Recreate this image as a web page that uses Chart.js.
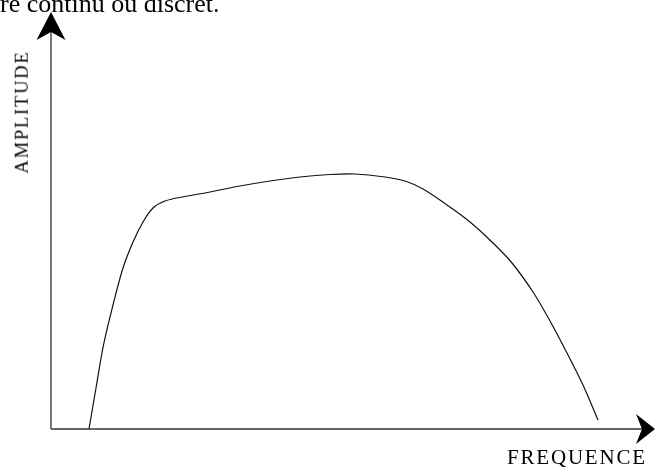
<!DOCTYPE html>
<html>
<head>
<meta charset="utf-8">
<script src="https://cdn.jsdelivr.net/npm/chart.js@4.4.1/dist/chart.umd.min.js"></script>
<style>
  html, body { margin: 0; padding: 0; background: #fff; }
  #wrap { position: relative; width: 656px; height: 469px; overflow: hidden; }
  #c { position: absolute; left: 0; top: 0; }
  .txt { position: absolute; font-family: "Liberation Serif", "DejaVu Serif", serif; color: #000; white-space: nowrap; line-height: 1; }
  #top { left: 0; top: -9px; font-size: 26px; }
  #ylab { font-size: 18.5px; letter-spacing: 1.8px; left: 21.5px; top: 112px; transform: translate(-50%, -50%) rotate(-90deg); }
  #xlab { font-size: 21px; letter-spacing: 1.8px; left: 507px; top: 447px; }
</style>
</head>
<body>
<div id="wrap">
  <canvas id="c" width="656" height="469"></canvas>
  <div class="txt" id="top">re continu ou discret.</div>
  <div class="txt" id="ylab">AMPLITUDE</div>
  <div class="txt" id="xlab">FREQUENCE</div>
</div>
<script>
// Frequency (x) and amplitude (y)
const frequency = [38, 45.5, 52.5, 62, 72, 82, 92, 102, 114, 134, 159, 189, 219, 249, 279, 304, 334, 354, 372, 396, 419, 442, 461, 482, 499, 516, 532, 547];
const amplitude = [0, 44, 84, 124, 161, 187, 207, 221, 228, 232.5, 237, 243, 248, 252, 254.5, 255, 252, 248, 240, 224, 207, 186, 166, 137, 108, 76, 44, 9];
const xRange = [0, 600];
const yRange = [0, 417];

const points = frequency.map((f, i) => ({ x: f, y: amplitude[i] }));

const axesArrows = {
  id: 'axesArrows',
  afterDatasetsDraw(chart) {
    const { ctx } = chart;
    const x0 = chart.scales.x.getPixelForValue(xRange[0]);
    const y0 = chart.scales.y.getPixelForValue(yRange[0]);
    const xEnd = chart.scales.x.getPixelForValue(xRange[1]);
    const yEnd = chart.scales.y.getPixelForValue(yRange[1]);
    ctx.save();
    ctx.strokeStyle = '#333';
    ctx.lineWidth = 1.3;
    ctx.beginPath();
    ctx.moveTo(x0, y0);
    ctx.lineTo(x0, yEnd + 4);
    ctx.moveTo(x0, y0);
    ctx.lineTo(xEnd + 2, y0);
    ctx.stroke();
    ctx.fillStyle = '#000';
    // Y arrow head
    ctx.beginPath();
    ctx.moveTo(x0, yEnd);
    ctx.lineTo(x0 + 14.5, yEnd + 28);
    ctx.lineTo(x0, yEnd + 20);
    ctx.lineTo(x0 - 14.5, yEnd + 28);
    ctx.closePath();
    ctx.fill();
    // X arrow head
    const tip = xEnd + 4;
    ctx.beginPath();
    ctx.moveTo(tip, y0);
    ctx.lineTo(tip - 19, y0 - 15);
    ctx.lineTo(tip - 13, y0);
    ctx.lineTo(tip - 19, y0 + 15);
    ctx.closePath();
    ctx.fill();
    ctx.restore();
  }
};

new Chart(document.getElementById('c'), {
  type: 'scatter',
  data: {
    datasets: [{
      data: points,
      showLine: true,
      borderColor: '#111',
      borderWidth: 1.2,
      pointRadius: 0,
      tension: 0.35,
      fill: false
    }]
  },
  options: {
    responsive: false,
    animation: false,
    events: [],
    layout: { padding: { left: 51, right: 5, top: 12, bottom: 40 } },
    plugins: { legend: { display: false }, tooltip: { enabled: false }, title: { display: false } },
    scales: {
      x: { type: 'linear', display: false, min: xRange[0], max: xRange[1] },
      y: { type: 'linear', display: false, min: yRange[0], max: yRange[1] }
    }
  },
  plugins: [axesArrows]
});
</script>
</body>
</html>
